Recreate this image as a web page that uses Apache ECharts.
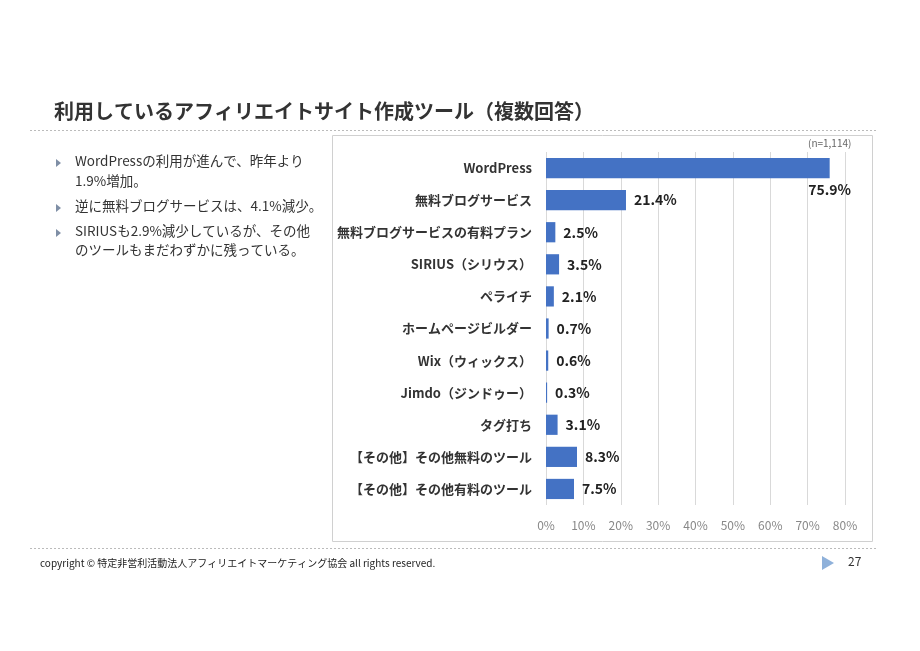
<!DOCTYPE html>
<html><head><meta charset="utf-8">
<script src="https://cdn.jsdelivr.net/npm/echarts@6/dist/echarts.min.js"></script>
<style>html,body{margin:0;padding:0;background:#fff}#c{width:920px;height:651px}</style>
</head><body><div id="c"></div>
<script>
const categories = ['WordPress','無料ブログサービス','無料ブログサービスの有料プラン','SIRIUS（シリウス）','ペライチ','ホームページビルダー','Wix（ウィックス）','Jimdo（ジンドゥー）','タグ打ち','【その他】その他無料のツール','【その他】その他有料のツール'];
const values = [75.9,21.4,2.5,3.5,2.1,0.7,0.6,0.3,3.1,8.3,7.5];
const xTicks = [0,10,20,30,40,50,60,70,80];
const titleText = '利用しているアフィリエイトサイト作成ツール（複数回答）';
const bullets = [['WordPressの利用が進んで、昨年より','1.9%増加。'],['逆に無料ブログサービスは、4.1%減少。'],['SIRIUSも2.9%減少しているが、その他','のツールもまだわずかに残っている。']];
const sampleNote = '(n=1,114)';
const footerText = 'copyright © 特定非営利活動法人アフィリエイトマーケティング協会 all rights reserved.';
const pageNo = '27';

const FONT = '"Noto Sans CJK JP","Noto Sans",sans-serif';
const chart = echarts.init(document.getElementById('c'), null, {renderer:'canvas'});

const graphics = [
  {type:'text', left:54, top:101, style:{text:titleText, font:'bold 20px '+FONT, fill:'#333'}},
  {type:'line', shape:{x1:30,y1:130.5,x2:876,y2:130.5}, style:{stroke:'#bbb', lineWidth:1, lineDash:[2,2]}},
  {type:'line', shape:{x1:30,y1:548.5,x2:876,y2:548.5}, style:{stroke:'#bbb', lineWidth:1, lineDash:[2,2]}},
  {type:'rect', shape:{x:332.5,y:135.5,width:540,height:406}, style:{fill:'none', stroke:'#d0d0d0', lineWidth:1}, z:-1},
  {type:'text', left:808, top:138, style:{text:sampleNote, font:'10px '+FONT, fill:'#666'}},
  {type:'text', left:40, top:558, style:{text:footerText, font:'10px '+FONT, fill:'#222'}},
  {type:'polygon', shape:{points:[[822,556],[822,570],[834,563]]}, style:{fill:'#8fb1da'}},
  {type:'text', left:848, top:555, style:{text:pageNo, font:'12px '+FONT, fill:'#333'}}
];
const lineYs = [[163,183],[208],[233,252]];
bullets.forEach((b,i)=>{
  graphics.push({type:'polygon', shape:{points:[[56,lineYs[i][0]-4],[56,lineYs[i][0]+4],[61,lineYs[i][0]]]}, style:{fill:'#7f8fa6'}});
  b.forEach((t,j)=>{
    graphics.push({type:'text', left:75, top:lineYs[i][j]-9, style:{text:t, font:'13.5px '+FONT, fill:'#333'}});
  });
});

const seriesData = values.map((v,i)=> i===0 ? {value:v, label:{position:['100%','100%'], align:'center', verticalAlign:'top', offset:[0,5]}} : v);

chart.setOption({
  animation:false,
  textStyle:{fontFamily:FONT},
  grid:{left:546, right:75, top:152, bottom:146, containLabel:false},
  xAxis:{type:'value', min:0, max:80, interval:10,
    axisLine:{show:false}, axisTick:{show:false},
    splitLine:{lineStyle:{color:'#d9d9d9', width:1}},
    axisLabel:{formatter:'{value}%', color:'#888', fontSize:12, margin:14, fontFamily:FONT}},
  yAxis:{type:'category', data:categories, inverse:true,
    axisLine:{show:false}, axisTick:{show:false},
    axisLabel:{color:'#333', fontSize:13, fontWeight:'bold', margin:14, fontFamily:FONT}},
  series:[{type:'bar', data:seriesData, barCategoryGap:'37%',
    itemStyle:{color:'#4472c4'},
    label:{show:true, position:'right', distance:8, formatter:'{c}%', color:'#222', fontSize:14, fontWeight:'bold', fontFamily:FONT}}],
  graphic:graphics
});
</script></body></html>
